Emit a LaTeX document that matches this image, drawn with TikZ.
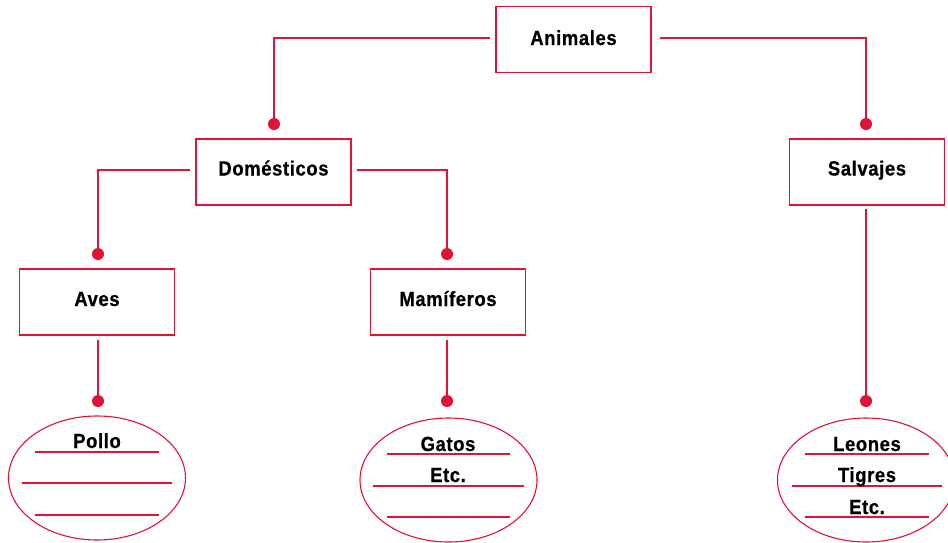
\documentclass[tikz,border=0pt]{standalone}
\usepackage{fontspec}
\setmainfont{Liberation Sans}[FakeStretch=0.9,LetterSpace=3,BoldFeatures={FakeBold=0.6}]
\usetikzlibrary{shapes.geometric}
\definecolor{linered}{RGB}{226,18,52}
\tikzset{
  box/.style={draw=linered, line width=1.1pt, minimum width=155pt, minimum height=66pt, inner sep=0pt},
  boxtext/.style={inner sep=0pt, font=\fontsize{20.5}{22}\selectfont\bfseries},
  oval/.style={draw=linered, line width=1.1pt, ellipse, minimum width=177pt, minimum height=124pt, inner sep=0pt},
  dot/.style={circle, fill=linered, minimum size=12pt, inner sep=0pt},
  conn/.style={draw=linered, line width=1.1pt},
  rule/.style={draw=linered, line width=1.1pt},
  lab/.style={anchor=base, inner sep=0pt, font=\fontsize{20.5}{22}\selectfont\bfseries}
}
\begin{document}
\begin{tikzpicture}[x=1pt,y=-1pt]
\useasboundingbox (0,0) rectangle (948,542);
% boxes
\node[box] (ani) at (573.5,39.5) {};
\node[box] (dom) at (273.5,172) {};
\node[box] (sal) at (867,172) {};
\node[box] (ave) at (97,302) {};
\node[box] (mam) at (448,302) {};
\node[boxtext, anchor=base] (tani) at (573.5,45) {Animales};
\node[boxtext, anchor=base] (tdom) at (273.5,175.5) {Domésticos};
\node[boxtext, anchor=base] (tsal) at (867,175.5) {Salvajes};
\node[boxtext, anchor=base] (tave) at (97,306) {Aves};
\node[boxtext, anchor=base] (tmam) at (448,306) {Mamíferos};
% dots
\node[dot] (d1) at (274,124) {};
\node[dot] (d2) at (866,124) {};
\node[dot] (d3) at (98,254) {};
\node[dot] (d4) at (447,254) {};
\node[dot] (d5) at (98,401) {};
\node[dot] (d6) at (447,401) {};
\node[dot] (d7) at (866,401) {};
% connector start points
\coordinate (a1) at (490,38);
\coordinate (a2) at (660,38);
\coordinate (b1) at (190,170);
\coordinate (b2) at (357,170);
\coordinate (c1) at (98,340);
\coordinate (c2) at (447,340);
\coordinate (c3) at (866,209);
\draw[conn] (a1) -| (d1.center);
\draw[conn] (a2) -| (d2.center);
\draw[conn] (b1) -| (d3.center);
\draw[conn] (b2) -| (d4.center);
\draw[conn] (c1) -- (d5.center);
\draw[conn] (c2) -- (d6.center);
\draw[conn] (c3) -- (d7.center);
% ovals
\node[oval] (o1) at (97,478) {};
\node[oval] (o2) at (448.5,480) {};
\node[oval] (o3) at (866,480) {};
% ruled lines in ovals
\draw[rule] (35,452) -- (159,452);
\draw[rule] (22,483) -- (172,483);
\draw[rule] (35,515) -- (159,515);
\draw[rule] (387,454) -- (510,454);
\draw[rule] (373,486) -- (524,486);
\draw[rule] (387,517) -- (510,517);
\draw[rule] (805,454) -- (929,454);
\draw[rule] (792,486) -- (942,486);
\draw[rule] (805,517) -- (929,517);
% texts
\node[lab] (t1) at (97,448) {Pollo};
\node[lab] (t2) at (448,451) {Gatos};
\node[lab] (t3) at (448,482) {Etc.};
\node[lab] (t4) at (867,451) {Leones};
\node[lab] (t5) at (867,482) {Tigres};
\node[lab] (t6) at (867,514) {Etc.};
\end{tikzpicture}
\end{document}
